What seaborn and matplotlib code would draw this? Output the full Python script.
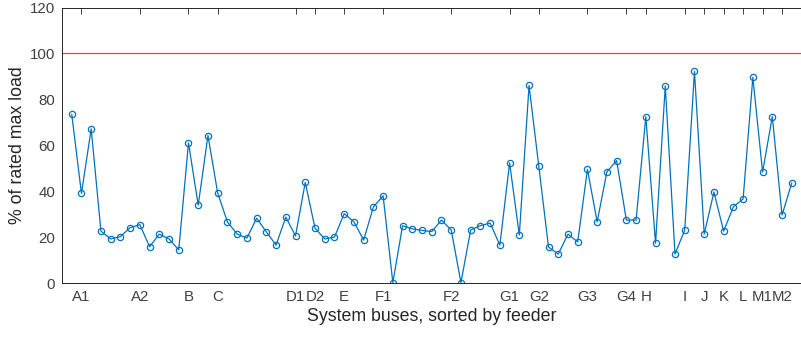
import numpy as np
import pandas as pd
import seaborn as sns
import matplotlib.pyplot as plt

# load of every bus, % of rated max load
load_pct = [73.5, 39.1, 67.2, 22.7, 19.3, 20.3, 24.2, 25.5, 15.9, 21.4,
            19.3, 14.5, 61.1, 34.0, 64.3, 39.3, 26.7, 21.4, 19.7, 28.3,
            22.4, 16.6, 28.8, 20.6, 43.9, 24.0, 19.3, 20.1, 30.3, 26.8,
            18.8, 33.2, 38.1, 0.3, 25.0, 23.7, 23.0, 22.5, 27.5, 23.2,
            0.3, 23.2, 25.1, 26.2, 16.6, 52.4, 21.0, 86.1, 51.0, 15.8,
            12.7, 21.4, 18.0, 49.6, 26.7, 48.5, 53.4, 27.5, 27.5, 72.5,
            17.4, 85.9, 12.7, 23.2, 92.2, 21.4, 39.7, 22.7, 33.3, 36.7,
            89.6, 48.4, 72.5, 29.7, 43.7]
bus = list(range(1, len(load_pct) + 1))

feeder_pos = [2, 8, 13, 16, 24, 26, 29, 33, 40, 46, 49, 54, 58, 60,
              64, 66, 68, 70, 72, 74]
feeder_lbl = ["A1", "A2", "B", "C", "D1", "D2", "E", "F1", "F2", "G1",
              "G2", "G3", "G4", "H", "I", "J", "K", "L", "M1", "M2"]
rated_max = 100

df = pd.DataFrame({"bus": bus, "load": load_pct})

sns.set_style("white")
plt.rcParams["font.family"] = ["Liberation Sans", "DejaVu Sans"]

fig = plt.figure(figsize=(8.01, 3.39), dpi=100)
# right edge of the box falls just off the canvas, like the original
ax = fig.add_axes([62 / 801, 1 - 283.3 / 339, 739.5 / 801, (283.3 - 7.5) / 339])

blue = "#0072BD"
sns.lineplot(data=df, x="bus", y="load", ax=ax, color=blue, lw=0.9,
             marker="o", markersize=4.5, markerfacecolor="none",
             markeredgecolor=blue, markeredgewidth=0.9)
ax.axhline(rated_max, color="#D95319", lw=0.9)

ax.set_xlim(0, len(load_pct) + 1)
ax.set_ylim(0, 120)
ax.set_yticks(range(0, 121, 20))
ax.set_xticks(feeder_pos)
ax.set_xticklabels(feeder_lbl)
ax.set_xlabel("System buses, sorted by feeder", fontsize=12.8,
              color="#262626", labelpad=3)
ax.set_ylabel("% of rated max load", fontsize=12.8, color="#262626",
              labelpad=3)
ax.tick_params(direction="in", top=True, right=False, length=4, width=0.7,
               labelsize=10.8, colors="#404040", pad=5)
for s in ax.spines.values():
    s.set_color("#262626")
    s.set_linewidth(0.7)

fig.savefig("out.png", dpi=100)
